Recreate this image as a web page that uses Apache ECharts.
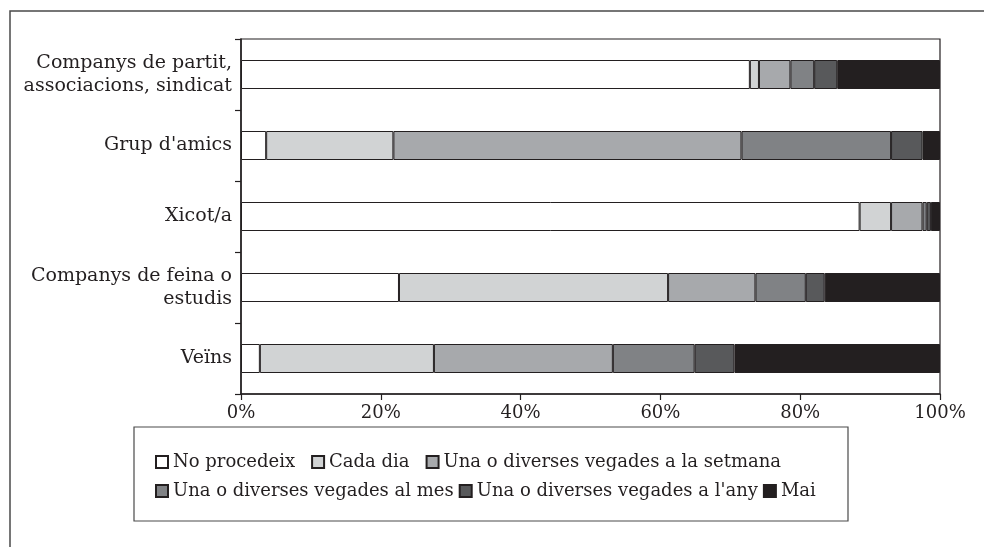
<!DOCTYPE html>
<html>
<head>
<meta charset="utf-8">
<script src="https://cdn.jsdelivr.net/npm/echarts@6/dist/echarts.min.js"></script>
<style>
  html, body { margin: 0; padding: 0; background: #fff; }
  #chart { width: 984px; height: 547px; }
</style>
</head>
<body>
<div id="chart"></div>
<script>
// Categories, top to bottom
const categories = [
  'Companys de partit,\nassociacions, sindicat',
  "Grup d'amics",
  'Xicot/a',
  'Companys de feina o\nestudis',
  'Veïns'
];

// Share of answers per category (%)
const noProcedeix   = [72.8,  3.6, 88.5, 22.6,  2.7];
const cadaDia       = [ 1.3, 18.2,  4.5, 38.5, 24.9];
const setmana       = [ 4.5, 49.8,  4.5, 12.5, 25.6];
const mes           = [ 3.4, 21.4,  0.6,  7.2, 11.7];
const any           = [ 3.3,  4.5,  0.6,  2.7,  5.7];
const mai           = [14.7,  2.5,  1.3, 16.5, 29.4];

const seriesNames = [
  'No procedeix',
  'Cada dia',
  'Una o diverses vegades a la setmana',
  'Una o diverses vegades al mes',
  "Una o diverses vegades a l'any",
  'Mai'
];
const seriesData = [noProcedeix, cadaDia, setmana, mes, any, mai];
const seriesColors = ['#ffffff', '#d1d3d4', '#a7a9ac', '#808285', '#58595b', '#231f20'];

const xTicks = [0, 20, 40, 60, 80, 100];

const ink = '#231f20';
const serif = '"DejaVu Serif", "Liberation Serif", serif';

const chart = echarts.init(document.getElementById('chart'), null, { renderer: 'canvas' });

const legendCommon = {
  orient: 'horizontal',
  icon: 'rect',
  itemWidth: 12,
  itemHeight: 12,
  itemGap: 16,
  textStyle: { fontFamily: serif, fontSize: 18, color: ink },
  selectedMode: false
};

chart.setOption({
  animation: false,
  backgroundColor: '#ffffff',
  graphic: [
    {
      type: 'rect',
      shape: { x: 10, y: 11, width: 1000, height: 600 },
      style: { fill: 'none', stroke: '#4a4a4a', lineWidth: 1.5 },
      silent: true
    },
    {
      type: 'rect',
      shape: { x: 134, y: 427, width: 714, height: 94 },
      style: { fill: 'none', stroke: '#4a4a4a', lineWidth: 1.2 },
      silent: true
    }
  ],
  grid: {
    left: 241, right: 44, top: 39, height: 355,
    show: true, borderColor: ink, borderWidth: 1.2, backgroundColor: 'transparent'
  },
  legend: [
    Object.assign({}, legendCommon, {
      left: 150, top: 448,
      data: seriesNames.slice(0, 3)
    }),
    Object.assign({}, legendCommon, {
      left: 150, top: 477, itemGap: 5,
      data: seriesNames.slice(3)
    })
  ],
  xAxis: {
    type: 'value',
    min: xTicks[0],
    max: xTicks[xTicks.length - 1],
    interval: 20,
    axisLine: { show: true, lineStyle: { color: ink, width: 1.5 } },
    axisTick: { show: true, length: 6, lineStyle: { color: ink, width: 1.2 } },
    splitLine: { show: false },
    axisLabel: {
      formatter: '{value}%',
      fontFamily: serif, fontSize: 18, color: ink, margin: 10
    }
  },
  yAxis: {
    type: 'category',
    data: categories,
    inverse: true,
    axisLine: { show: true, lineStyle: { color: ink, width: 1.5 } },
    axisTick: { show: true, length: 6, alignWithLabel: false, lineStyle: { color: ink, width: 1.2 } },
    axisLabel: {
      fontFamily: serif, fontSize: 19, color: ink, margin: 9, lineHeight: 23,
      align: 'right'
    }
  },
  series: seriesNames.map((name, i) => ({
    name: name,
    type: 'bar',
    stack: 'total',
    barWidth: 29,
    data: seriesData[i],
    itemStyle: { color: seriesColors[i], borderColor: ink, borderWidth: 1 },
    emphasis: { disabled: true }
  }))
});
</script>
</body>
</html>
